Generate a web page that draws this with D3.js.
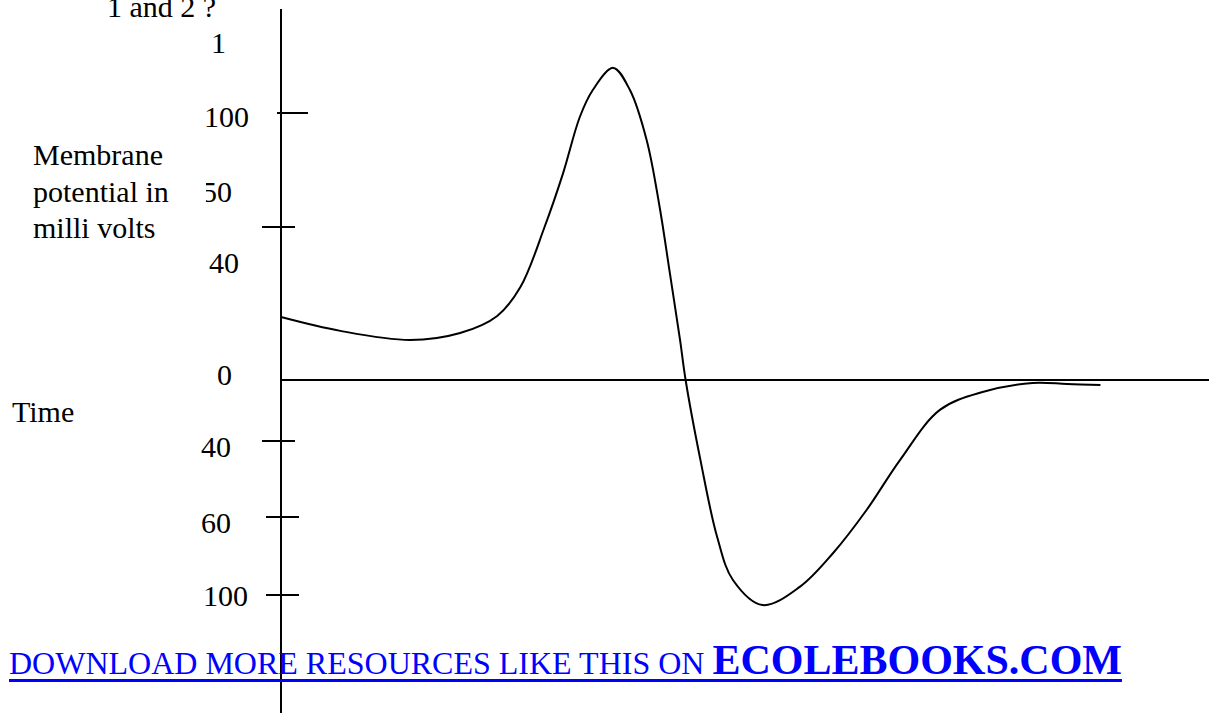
<!DOCTYPE html>
<html>
<head>
<meta charset="utf-8">
<script src="https://cdn.jsdelivr.net/npm/d3@7"></script>
<style>
  body { margin: 0; background: #fff; }
  svg { display: block; }
  text { font-family: "Liberation Serif", "Times New Roman", serif; }
</style>
</head>
<body>
<svg width="1209" height="713"></svg>
<script>
// Time axis (arbitrary units) and membrane potential (mV, relative to the drawn zero line)
const times = [0, 6.4, 13.9, 19.3, 23.3, 25.8, 28.4, 30.4, 32.2, 33.6, 35.8, 37.6, 39.4, 40.8,
               41.9, 43.0, 43.6, 45.2, 47.0, 48.7, 51.9, 55.9, 59.5, 63.1, 66.7, 71.0, 75.6, 81.0, 84.7, 88.3];
const potential = [23.6, 18.4, 15.0, 17.6, 24.0, 34.8, 57.3, 77.5, 98.5, 108.6, 116.9, 108.6, 89.9, 64.8,
                   40.1, 15.0, 0, -30.0, -58.8, -74.9, -84.3, -77.5, -64.8, -48.7, -30.0, -11.2, -4.5, -1.1, -1.5, -1.9];

// tick marks on the potential axis
const tickValues = [100, 57.3, -22.8, -51.3, -80.5];
// the labels as printed (they do not line up with a regular scale)
const labelText = ["1", "100", "50", "40", "0", "40", "60", "100"];
const labelValues = [122.5, 94.8, 66.7, 40.1, -1.9, -28.8, -57.3, -84.6];

const titleLines = ["Membrane", "potential in", "milli volts"];

const svg = d3.select('svg');

const x = d3.scaleLinear().domain([0, 100]).range([281, 1209]);
const y = d3.scaleLinear().domain([0, 100]).range([380, 113]);

// vertical axis
svg.append('line')
    .attr('x1', x(0)).attr('x2', x(0))
    .attr('y1', 9).attr('y2', 713)
    .attr('stroke', '#000').attr('stroke-width', 2);

// zero line (time axis)
svg.append('line')
    .attr('x1', x(0)).attr('x2', x(100))
    .attr('y1', y(0)).attr('y2', y(0))
    .attr('stroke', '#000').attr('stroke-width', 2);

// ticks, drawn a bit unevenly like the original
const tickLeft = [-4, -19, -19, -15, -15];
const tickRight = [27, 14, 14, 18, 18];
svg.selectAll('.tick').data(tickValues).enter()
    .append('line')
    .attr('class', 'tick')
    .attr('x1', (d, i) => x(0) + tickLeft[i])
    .attr('x2', (d, i) => x(0) + tickRight[i])
    .attr('y1', d => y(d)).attr('y2', d => y(d))
    .attr('stroke', '#000').attr('stroke-width', 2);

// tick labels
const labelX = [211, 204, 202, 209, 217, 201, 201, 203];
svg.append('clipPath').attr('id', 'lblclip')
    .append('rect').attr('x', 206).attr('y', 0).attr('width', 100).attr('height', 713);

svg.selectAll('.lbl').data(labelText).enter()
    .append('text')
    .attr('class', 'lbl')
    .attr('x', (d, i) => labelX[i])
    .attr('y', (d, i) => y(labelValues[i]))
    .attr('font-size', 30)
    .attr('clip-path', (d, i) => i == 2 ? 'url(#lblclip)' : null)
    .text(d => d);

// titles
svg.append('text').attr('x', 107).attr('y', 17).attr('font-size', 30).text('1 and 2 ?');

svg.selectAll('.ttl').data(titleLines).enter()
    .append('text')
    .attr('class', 'ttl')
    .attr('x', 33)
    .attr('y', (d, i) => 165 + i * 36.5)
    .attr('font-size', 30)
    .text(d => d);

svg.append('text').attr('x', 12).attr('y', 422).attr('font-size', 30).text('Time');

// the action potential curve
const line = d3.line()
    .x((d, i) => x(times[i]))
    .y(d => y(d))
    .curve(d3.curveCatmullRom.alpha(0.5));

svg.append('path')
    .datum(potential)
    .attr('fill', 'none')
    .attr('stroke', '#000')
    .attr('stroke-width', 2)
    .attr('d', line);

// link footer
const link = svg.append('text')
    .attr('x', 9).attr('y', 674)
    .attr('fill', '#0000ff');
link.append('tspan').attr('font-size', 32).text('DOWNLOAD MORE RESOURCES LIKE THIS ON ');
link.append('tspan').attr('font-size', 42).attr('font-weight', 'bold').text('ECOLEBOOKS.COM');

const bb = link.node().getBBox();
svg.append('rect')
    .attr('x', bb.x).attr('y', 679)
    .attr('width', bb.width).attr('height', 3)
    .attr('fill', '#0000ff');
</script>
</body>
</html>
